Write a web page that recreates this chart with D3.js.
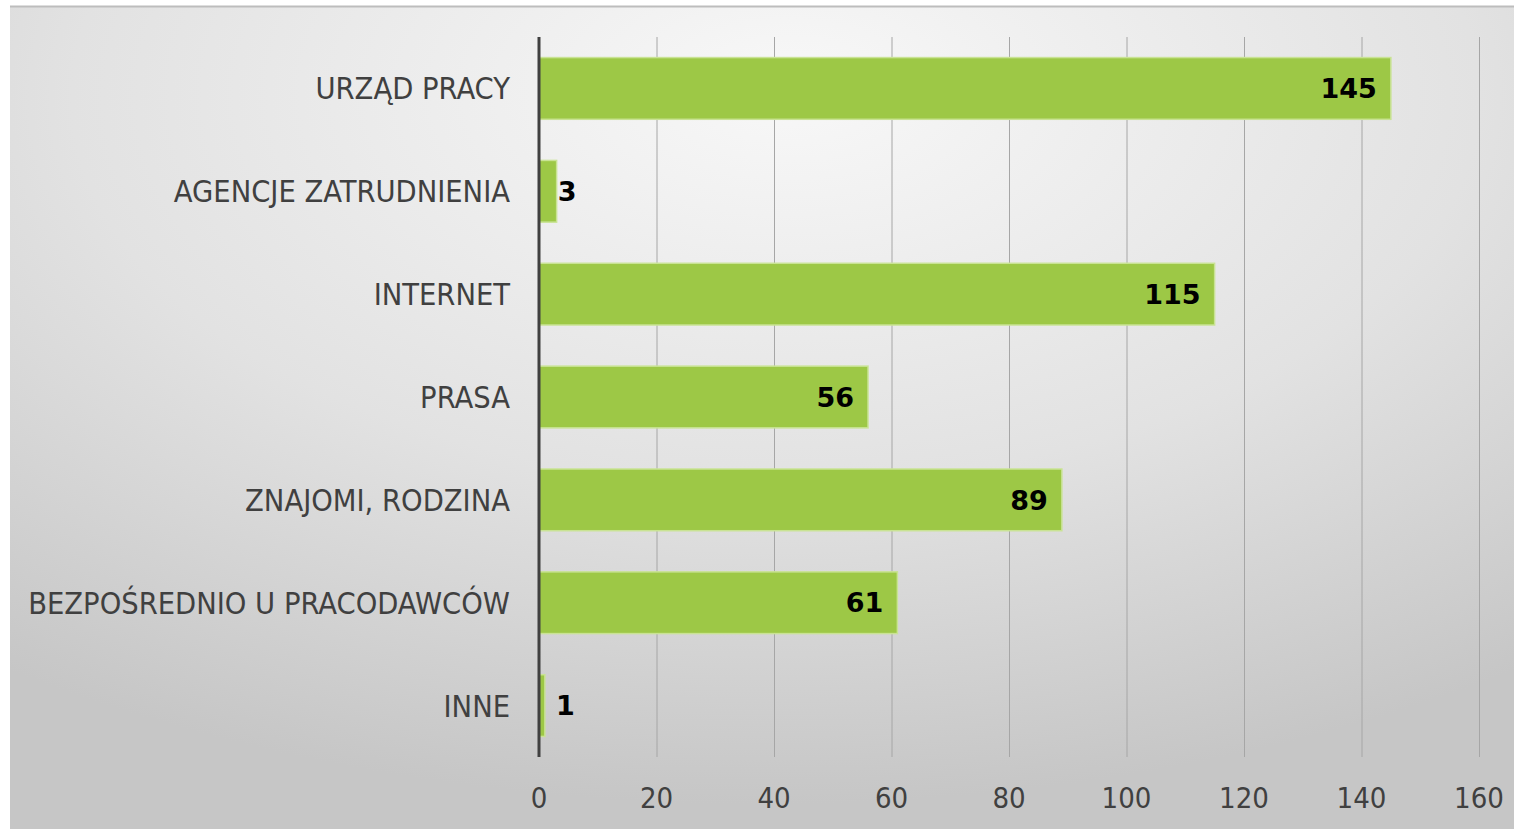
<html>
<head>
<meta charset="utf-8">
<style>
  body { margin: 0; background: #fff; }
  text { font-family: "DejaVu Sans", sans-serif; }
</style>
</head>
<body>
<svg id="svg" width="1514" height="829"></svg>
<script src="https://d3js.org/d3.v7.min.js"></script>
<script>

var categories = ["URZĄD PRACY", "AGENCJE ZATRUDNIENIA", "INTERNET", "PRASA",
                  "ZNAJOMI, RODZINA", "BEZPOŚREDNIO U PRACODAWCÓW", "INNE"];
var values = [145, 3, 115, 56, 89, 61, 1];
var xTicks = [0, 20, 40, 60, 80, 100, 120, 140, 160];

var svg = d3.select("#svg");
var W = 1514, H = 829;

// background panel with soft radial shading
var defs = svg.append("defs");
var grad = defs.append("radialGradient").attr("id", "bg")
  .attr("cx", "50%").attr("cy", "12%").attr("r", "85%")
  .attr("fx", "52%").attr("fy", "10%");
grad.append("stop").attr("offset", "0%").attr("stop-color", "#f8f8f8");
grad.append("stop").attr("offset", "55%").attr("stop-color", "#e2e2e2");
grad.append("stop").attr("offset", "100%").attr("stop-color", "#c6c6c6");

svg.append("rect").attr("x", 10).attr("y", 6).attr("width", W - 10).attr("height", H - 6)
  .style("fill", "url(#bg)");
svg.append("line").attr("x1", 10).attr("x2", W).attr("y1", 6.5).attr("y2", 6.5)
  .style("stroke", "#bdbdbd").style("stroke-width", 2);

var x = d3.scaleLinear().domain([0, 160]).range([539, 1479]);
var y = d3.scaleBand().domain(categories).range([37, 757]).paddingInner(0.4).paddingOuter(0.2);

// gridlines
svg.append("g").selectAll("line.grid").data(xTicks.slice(1))
  .join("line").classed("grid", true)
  .attr("x1", d => x(d) + 0.5).attr("x2", d => x(d) + 0.5)
  .attr("y1", 37).attr("y2", 757)
  .style("stroke", "#a6a6a6").style("stroke-width", 1);

// bars
svg.append("g").selectAll("rect.bar").data(values)
  .join("rect").classed("bar", true)
  .attr("x", x(0))
  .attr("y", (d, i) => y(categories[i]))
  .attr("width", d => x(d) - x(0))
  .attr("height", y.bandwidth())
  .style("fill", "#9dc846")
  .style("stroke", "#c9e394")
  .style("stroke-width", 1.5);

// axis line
svg.append("line").attr("x1", x(0)).attr("x2", x(0)).attr("y1", 37).attr("y2", 757)
  .style("stroke", "#404040").style("stroke-width", 3);

// category labels
svg.append("g").selectAll("text.cat").data(categories)
  .join("text").classed("cat", true)
  .attr("x", 510)
  .attr("y", d => y(d) + y.bandwidth() / 2)
  .attr("dy", "0.36em")
  .attr("text-anchor", "end")
  .style("font-size", "30.5px")
  .style("font-stretch", "condensed")
  .style("fill", "#404040")
  .text(d => d);

// value labels: inside end for long bars, just right of the axis for tiny ones
svg.append("g").selectAll("text.val").data(values)
  .join("text").classed("val", true)
  .attr("x", d => d < 10 ? Math.max(x(d) + 1, x(0) + 17) : x(d) - 14)
  .attr("y", (d, i) => y(categories[i]) + y.bandwidth() / 2)
  .attr("dy", "0.36em")
  .attr("text-anchor", d => d < 10 ? "start" : "end")
  .style("font-size", "27px")
  .style("font-weight", "bold")
  .style("fill", "#000")
  .text(d => d);

// x tick labels
svg.append("g").selectAll("text.tick").data(xTicks)
  .join("text").classed("tick", true)
  .attr("x", d => x(d))
  .attr("y", 798)
  .attr("dy", "0.36em")
  .attr("text-anchor", "middle")
  .style("font-size", "29px")
  .style("font-stretch", "condensed")
  .style("fill", "#404040")
  .text(d => d);

</script>
</body>
</html>
